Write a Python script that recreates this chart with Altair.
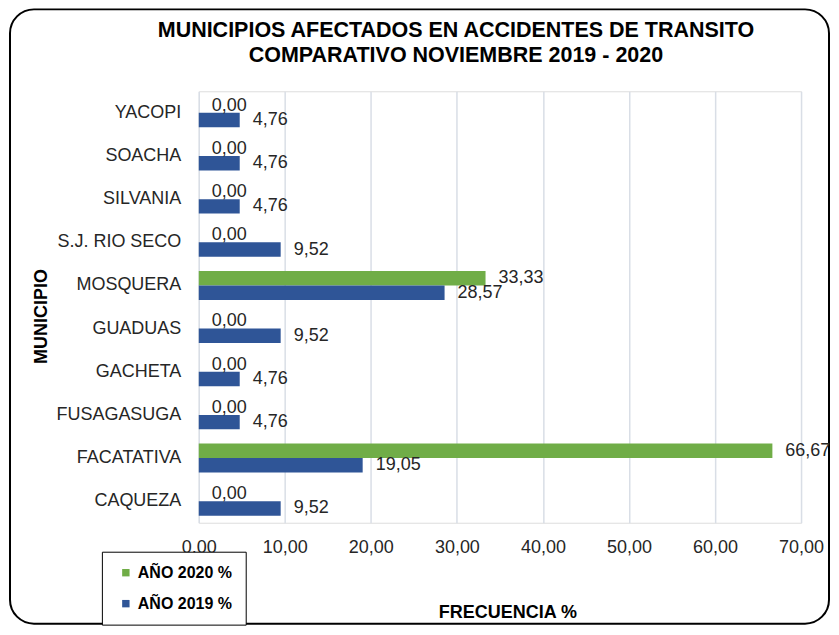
import altair as alt
import pandas as pd

municipios = ["YACOPI", "SOACHA", "SILVANIA", "S.J. RIO SECO", "MOSQUERA",
              "GUADUAS", "GACHETA", "FUSAGASUGA", "FACATATIVA", "CAQUEZA"]
anio_2020 = [0.00, 0.00, 0.00, 0.00, 33.33, 0.00, 0.00, 0.00, 66.67, 0.00]
anio_2019 = [4.76, 4.76, 4.76, 9.52, 28.57, 9.52, 4.76, 4.76, 19.05, 9.52]
series = ["AÑO 2020 %", "AÑO 2019 %"]
x_ticks = [0, 10, 20, 30, 40, 50, 60, 70]

rows = []
for m, a, b in zip(municipios, anio_2020, anio_2019):
    rows.append({"municipio": m, "serie": series[0], "valor": a})
    rows.append({"municipio": m, "serie": series[1], "valor": b})
df = pd.DataFrame(rows)
df["etiqueta"] = df["valor"].map(lambda v: f"{v:.2f}".replace(".", ","))

FONT = "Liberation Sans"
TXT = "#262626"

y_enc = alt.Y("municipio:N", sort=municipios,
              scale=alt.Scale(paddingInner=0.33, paddingOuter=0.165),
              axis=alt.Axis(title="MUNICIPIO", labelFontSize=18, labelColor=TXT,
                            labelFont=FONT, labelPadding=18, ticks=False, domain=False,
                            titleFont=FONT, titleFontSize=18, titleFontWeight="bold",
                            titleColor="#000000", titleAngle=-90, titleX=-157,
                            titleY=225, titleAlign="center", titleBaseline="middle"))
x_enc = alt.X("valor:Q", scale=alt.Scale(domain=[0, 70], nice=False),
              axis=alt.Axis(values=x_ticks, title="FRECUENCIA %",
                            labelExpr="replace(format(datum.value, '.2f'), '.', ',')",
                            labelFontSize=18, labelColor=TXT, labelFont=FONT,
                            labelPadding=16, labelFlush=False, labelOverlap=False,
                            ticks=False, domain=False,
                            grid=True, gridColor="#D9DEE6", gridWidth=1.5,
                            titleFont=FONT, titleFontSize=18, titleFontWeight="bold",
                            titleColor="#000000", titleX=309, titleY=90,
                            titleAlign="center", titleBaseline="middle"))
yoff = alt.YOffset("serie:N", sort=series, scale=alt.Scale(domain=series))

base = alt.Chart(df)

bars = base.mark_bar().encode(
    y=y_enc, x=x_enc, yOffset=yoff,
    color=alt.Color("serie:N", sort=series,
                    scale=alt.Scale(domain=series, range=["#70AD47", "#2F5597"]),
                    legend=alt.Legend(title=None, orient="none", legendX=-97, legendY=461,
                                      fillColor="white", strokeColor="#000000",
                                      padding=13, symbolType="square", symbolSize=55,
                                      symbolOffset=3, labelOffset=4, rowPadding=15,
                                      labelFont=FONT, labelFontSize=16,
                                      labelFontWeight="bold", labelColor="#000000")),
)

labels = base.mark_text(align="left", baseline="middle", dx=13, fontSize=18,
                        font=FONT, color=TXT).encode(
    y=alt.Y("municipio:N", sort=municipios), x="valor:Q", yOffset=yoff,
    text="etiqueta:N",
)

frame = alt.Chart(pd.DataFrame({"f": [0]})).mark_rect(
    fill=None, stroke="#000000", strokeWidth=2, cornerRadius=24, clip=False
).encode(x=alt.value(-189), x2=alt.value(631), y=alt.value(-82), y2=alt.value(533))

chart = alt.layer(frame, bars, labels).properties(
    width=603, height=432,
    autosize=alt.AutoSizeParams(type="none"),
    padding={"left": 191, "top": 83, "right": 30, "bottom": 103},
    title=alt.Title(["MUNICIPIOS AFECTADOS EN ACCIDENTES DE TRANSITO",
                     "COMPARATIVO NOVIEMBRE 2019 - 2020"],
                    font=FONT, fontSize=21.5, fontWeight="bold", color="#000000",
                    lineHeight=25, anchor="middle", dx=-44, offset=24, dy=82),
).configure_view(stroke=None).configure(background="white")

chart.save("out.html", embed_options={"renderer": "svg", "actions": False})
